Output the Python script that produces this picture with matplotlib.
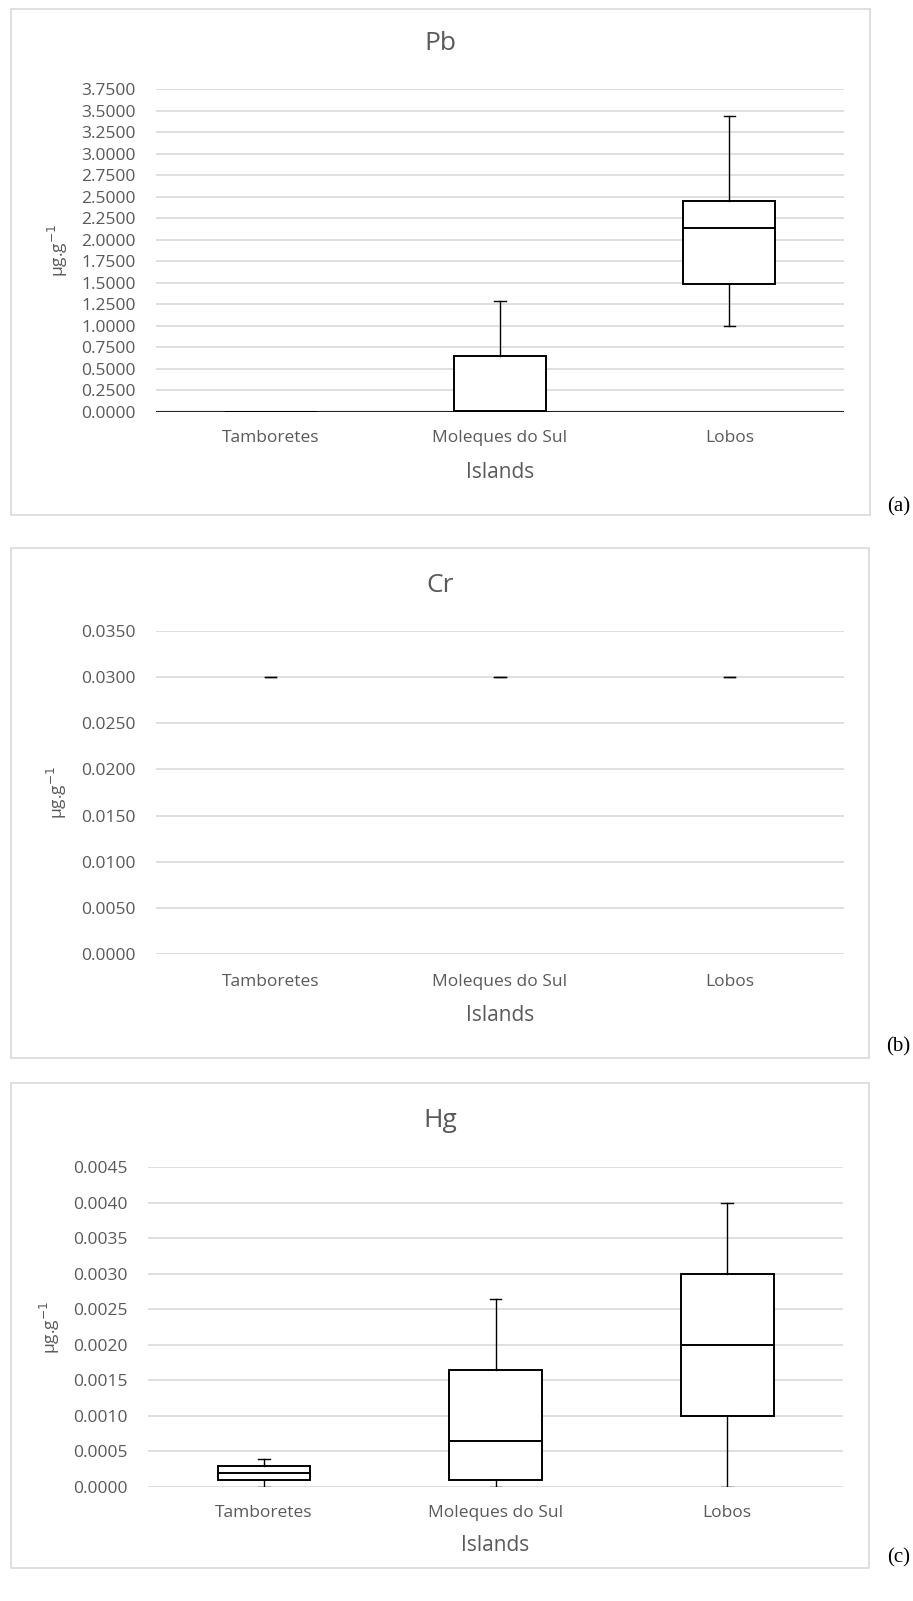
import matplotlib
matplotlib.use("Agg")
import matplotlib.pyplot as plt
from matplotlib.patches import Rectangle

W, H = 913, 1601

islands = ["Tamboretes", "Moleques do Sul", "Lobos"]

# Pb (µg.g-1)
pb_low = [0.0, 0.0, 1.00]
pb_q1 = [0.0, 0.0, 1.49]
pb_med = [0.0, 0.01, 2.135]
pb_q3 = [0.0, 0.65, 2.445]
pb_high = [0.0, 1.29, 3.435]
pb_ticks = [i * 0.25 for i in range(16)]

# Cr (µg.g-1) - every sample at 0.03
cr_low = [0.03, 0.03, 0.03]
cr_q1 = [0.03, 0.03, 0.03]
cr_med = [0.03, 0.03, 0.03]
cr_q3 = [0.03, 0.03, 0.03]
cr_high = [0.03, 0.03, 0.03]
cr_ticks = [i * 0.005 for i in range(8)]

# Hg (µg.g-1)
hg_low = [0.0, 0.0, 0.0]
hg_q1 = [0.0001, 0.0001, 0.0010]
hg_med = [0.0002, 0.00065, 0.0020]
hg_q3 = [0.0003, 0.00165, 0.0030]
hg_high = [0.0004, 0.00265, 0.0040]
hg_ticks = [i * 0.0005 for i in range(10)]

GREY = "#595959"
GRID = "#d9d9d9"
FONT = "Open Sans"


def fx(x):
    return x / W


def fy(y):
    return 1 - y / H


def panel(fig, frame, plot, title, title_y, lab_y, isl_y, ylab_x, low, q1, med, q3, high,
          ticks, tag, tag_y, dark_base=False, show_box=True):
    fx0, fy0, fx1, fy1 = frame
    fig.patches.append(Rectangle((fx(fx0), fy(fy1)), fx(fx1 - fx0), (fy1 - fy0) / H,
                                 transform=fig.transFigure, fill=False, ec=GRID, lw=1.2))
    x0, y0, x1, y1 = plot
    ax = fig.add_axes([fx(x0), fy(y1), fx(x1 - x0), (y1 - y0) / H])
    stats = [dict(whislo=a, q1=b, med=c, q3=d, whishi=e, label=n)
             for a, b, c, d, e, n in zip(low, q1, med, q3, high, islands)]
    lw_box = 1.4 if show_box else 0
    ax.bxp(stats, positions=range(3), widths=0.4, capwidths=0.05, showfliers=False,
           patch_artist=True,
           boxprops=dict(facecolor="white", edgecolor="black", lw=lw_box),
           medianprops=dict(color="black", lw=lw_box),
           whiskerprops=dict(color="black", lw=1.0),
           capprops=dict(color="black", lw=1.0))
    ax.set_xlim(-0.5, 2.5)
    ax.set_ylim(0, ticks[-1])
    ax.set_yticks(ticks)
    ax.set_yticklabels([f"{t:.4f}" for t in ticks], fontsize=12.5, color=GREY, family=FONT)
    ax.set_xticks(range(3))
    ax.set_xticklabels([])
    ax.tick_params(length=0, axis="y", pad=14.5)
    ax.tick_params(length=0, axis="x")
    ax.yaxis.grid(True, color=GRID, lw=1.2)
    ax.set_axisbelow(True)
    for s in ax.spines.values():
        s.set_visible(False)
    if dark_base:
        ax.axhline(0, color="#222222", lw=1.5, zorder=1.5)
    cx = (fx0 + fx1) / 2
    fig.text(fx(cx), fy(title_y), title, ha="center", va="center", fontsize=19,
             color=GREY, family=FONT)
    for i, n in enumerate(islands):
        px = x0 + (i + 0.5) * (x1 - x0) / 3
        fig.text(fx(px), fy(lab_y), n, ha="center", va="center", fontsize=12.5,
                 color=GREY, family=FONT)
    fig.text(fx(x0 + (x1 - x0) / 2), fy(isl_y), "Islands", ha="center", va="center",
             fontsize=15, color=GREY, family=FONT)
    fig.text(fx(ylab_x), fy((y0 + y1) / 2), "µg.g$^{-1}$", rotation=90, ha="center",
             va="center", fontsize=12.5, color=GREY, family=FONT)
    fig.text(fx(910), fy(tag_y), tag, ha="right", va="center", fontsize=15,
             color="black", family="Liberation Serif")
    return ax


fig = plt.figure(figsize=(W / 100, H / 100), dpi=100)

panel(fig, (11, 9, 870, 515), (156, 89, 844, 412), "Pb", 43, 438, 472, 58,
      pb_low, pb_q1, pb_med, pb_q3, pb_high, pb_ticks, "(a)", 507, dark_base=True)
panel(fig, (11, 548, 869, 1058), (156, 631, 844, 954), "Cr", 585, 982, 1015, 57,
      cr_low, cr_q1, cr_med, cr_q3, cr_high, cr_ticks, "(b)", 1047, show_box=False)
panel(fig, (11, 1083, 869, 1568), (148, 1167, 843, 1487), "Hg", 1120, 1513, 1545, 50,
      hg_low, hg_q1, hg_med, hg_q3, hg_high, hg_ticks, "(c)", 1558)

fig.savefig("out.png", dpi=100)
